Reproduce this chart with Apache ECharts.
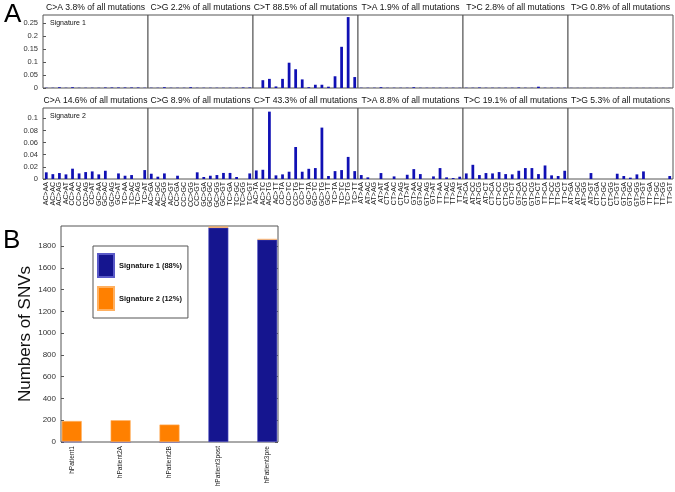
<!DOCTYPE html>
<html>
<head>
<meta charset="utf-8">
<script src="https://cdn.jsdelivr.net/npm/echarts@6/dist/echarts.min.js"></script>
<style>html,body{margin:0;padding:0;background:#fff}#c{width:675px;height:492px}</style>
</head>
<body>
<div id="c"></div>
<script>
// ---- Panel A data ----
const mutTypes = ['C>A','C>G','C>T','T>A','T>C','T>G'];
const sig1Pct = ['3.8%','2.2%','88.5%','1.9%','2.8%','0.8%'];
const sig2Pct = ['14.6%','8.9%','43.3%','8.8%','19.1%','5.3%'];

const labels_CA = ['AC>AA','AC>AC','AC>AG','AC>AT','CC>AA','CC>AC','CC>AG','CC>AT','GC>AA','GC>AC','GC>AG','GC>AT','TC>AA','TC>AC','TC>AG','TC>AT'];
const labels_CG = ['AC>GA','AC>GC','AC>GG','AC>GT','CC>GA','CC>GC','CC>GG','CC>GT','GC>GA','GC>GC','GC>GG','GC>GT','TC>GA','TC>GC','TC>GG','TC>GT'];
const labels_CT = ['AC>TA','AC>TC','AC>TG','AC>TT','CC>TA','CC>TC','CC>TG','CC>TT','GC>TA','GC>TC','GC>TG','GC>TT','TC>TA','TC>TC','TC>TG','TC>TT'];
const labels_TA = ['AT>AA','AT>AC','AT>AG','AT>AT','CT>AA','CT>AC','CT>AG','CT>AT','GT>AA','GT>AC','GT>AG','GT>AT','TT>AA','TT>AC','TT>AG','TT>AT'];
const labels_TC = ['AT>CA','AT>CC','AT>CG','AT>CT','CT>CA','CT>CC','CT>CG','CT>CT','GT>CA','GT>CC','GT>CG','GT>CT','TT>CA','TT>CC','TT>CG','TT>CT'];
const labels_TG = ['AT>GA','AT>GC','AT>GG','AT>GT','CT>GA','CT>GC','CT>GG','CT>GT','GT>GA','GT>GC','GT>GG','GT>GT','TT>GA','TT>GC','TT>GG','TT>GT'];

const sig1_CA = [0.001,0.001,0.003,0.001,0.003,0.001,0.001,0.001,0.001,0.002,0.002,0.002,0.002,0.002,0.002,0.001];
const sig1_CG = [0.001,0.001,0.003,0.001,0.001,0.001,0.003,0.001,0.001,0.001,0.001,0.001,0.001,0.001,0.002,0.002];
const sig1_CT = [0,0.030,0.035,0.006,0.035,0.097,0.072,0.033,0.003,0.0125,0.0125,0.005,0.045,0.158,0.272,0.042];
const sig1_TA = [0.001,0.001,0.001,0.003,0.001,0.001,0.001,0.001,0.003,0.001,0.001,0.001,0.001,0.001,0.001,0.001];
const sig1_TC = [0.001,0.001,0.002,0.001,0.001,0.001,0.001,0.001,0.002,0.001,0.001,0.005,0.001,0.001,0.001,0.001];
const sig1_TG = [0.0005,0.0005,0.0005,0.0005,0.0005,0.0005,0.0005,0.0005,0.0005,0.0005,0.0005,0.0005,0.0005,0.0005,0.0005,0.0005];

const sig2_CA = [0.011,0.008,0.0098,0.0076,0.017,0.0092,0.0114,0.0125,0.0076,0.0136,0,0.0092,0.0054,0.0065,0,0.0147];
const sig2_CG = [0.0087,0.0038,0.0092,0,0.0054,0,0,0.011,0.0033,0.0054,0.0065,0.01,0.01,0.0033,0,0.0092];
const sig2_CT = [0.0141,0.0152,0.111,0.006,0.0076,0.012,0.0527,0.012,0.0168,0.018,0.0847,0.0049,0.013,0.0147,0.0364,0.013];
const sig2_TA = [0.0065,0.0027,0,0.0098,0,0.0043,0,0.007,0.0163,0.0081,0,0.0043,0.018,0.0027,0.0016,0.0038];
const sig2_TC = [0.0092,0.0234,0.0065,0.0098,0.0092,0.0114,0.0081,0.0076,0.0136,0.018,0.018,0.0081,0.0223,0.006,0.0049,0.0136];
const sig2_TG = [0,0,0,0.0098,0,0,0,0.0087,0.0049,0.0022,0.0076,0.0125,0,0,0,0.0049];

const sig1TickLabels = [0,0.05,0.1,0.15,0.2,0.25];
const sig2TickLabels = [0,0.02,0.04,0.06,0.08,0.1];

// ---- Panel B data ----
const patients = ['hPatient1','hPatient2A','hPatient2B','hPatient3post','hPatient3pre'];
const snvSig1 = [5,0,0,1970,1860];
const snvSig2 = [188,200,160,10,5];
const snvTickLabels = [0,200,400,600,800,1000,1200,1400,1600,1800];

// ---- build ----
const labelsAll = [labels_CA,labels_CG,labels_CT,labels_TA,labels_TC,labels_TG];
const sig1All = [sig1_CA,sig1_CG,sig1_CT,sig1_TA,sig1_TC,sig1_TG];
const sig2All = [sig2_CA,sig2_CG,sig2_CT,sig2_TA,sig2_TC,sig2_TG];

const FONT = 'Liberation Sans, Arial, sans-serif';
const BAR = '#1010b4';
const panelLeft = 43, panelW = 105;
const rows = [
  {top:15, height:73, max:0.28, ticks:sig1TickLabels, data:sig1All, pct:sig1Pct, showX:false},
  {top:108, height:71, max:0.117, ticks:sig2TickLabels, data:sig2All, pct:sig2Pct, showX:true}
];

const grid=[], xAxis=[], yAxis=[], series=[], graphic=[];
rows.forEach((r,ri)=>{
  for(let k=0;k<6;k++){
    const gi = grid.length;
    grid.push({left:panelLeft+panelW*k, top:r.top, width:panelW, height:r.height,
      show:true, borderColor:'#555', borderWidth:1, backgroundColor:'#fff', containLabel:false});
    xAxis.push({type:'category', gridIndex:gi, data:labelsAll[k],
      axisLine:{show:false}, axisTick:{show:false},
      axisLabel:{show:r.showX, rotate:90, interval:0, fontSize:7, fontFamily:FONT, color:'#222', margin:3}});
    yAxis.push({type:'value', gridIndex:gi, min:0, max:r.max,
      axisLine:{show:false}, splitLine:{show:false},
      axisTick:{show:k===0, inside:true, length:3, lineStyle:{color:'#555'}, customValues:r.ticks},
      axisLabel:{show:k===0, fontSize:7.5, fontFamily:FONT, color:'#333', margin:5, customValues:r.ticks,
        formatter:v=>String(+v.toFixed(3))}});
    series.push({type:'bar', xAxisIndex:gi, yAxisIndex:gi, data:r.data[k], barWidth:'42%',
      itemStyle:{color:BAR}, silent:true, animation:false});
    graphic.push({type:'text', x:panelLeft+panelW*k+panelW/2, y:r.top-12,
      style:{text:mutTypes[k]+' '+r.pct[k]+' of all mutations', fill:'#111', font:'8.6px '+FONT, textAlign:'center'}});
  }
});
graphic.push({type:'text', x:50, y:20, style:{text:'Signature 1', fill:'#111', font:'7px '+FONT}});
graphic.push({type:'text', x:50, y:113, style:{text:'Signature 2', fill:'#111', font:'7px '+FONT}});
graphic.push({type:'text', x:4, y:2, style:{text:'A', fill:'#000', font:'26px '+FONT}});
graphic.push({type:'text', x:3, y:228, style:{text:'B', fill:'#000', font:'26px '+FONT}});

// Panel B
const gB = grid.length;
grid.push({left:61, top:226, width:217, height:216, show:true, borderColor:'#555', borderWidth:1, containLabel:false});
const xB = xAxis.length;
xAxis.push({type:'value', gridIndex:gB, position:'bottom', min:0.78, max:5.22,
  axisLine:{show:false}, splitLine:{show:false},
  axisTick:{show:false},
  axisLabel:{rotate:90, fontSize:6.6, fontFamily:FONT, color:'#222', margin:4, customValues:[1,2,3,4,5],
    formatter:v=>patients[Math.round(v)-1]||''}});
const yB = yAxis.length;
yAxis.push({type:'value', gridIndex:gB, min:0, max:1985,
  axisLine:{show:false}, splitLine:{show:false},
  axisTick:{show:true, inside:true, length:3, customValues:snvTickLabels, lineStyle:{color:'#555'}},
  axisLabel:{fontSize:8, fontFamily:FONT, color:'#333', margin:5, customValues:snvTickLabels, formatter:v=>String(v)},
  name:'Numbers of SNVs', nameLocation:'middle', nameRotate:90, nameGap:22,
  nameTextStyle:{fontSize:17, fontFamily:FONT, color:'#111'}});
yAxis.push({type:'value', gridIndex:gB, position:'right', min:0, max:1985,
  axisLine:{show:false}, splitLine:{show:false}, axisLabel:{show:false},
  axisTick:{show:true, inside:true, length:3, customValues:snvTickLabels, lineStyle:{color:'#555'}}});
series.push({type:'bar', name:'Signature 1 (88%)', xAxisIndex:xB, yAxisIndex:yB, stack:'b', barWidth:20,
  encode:{x:1, y:0}, data:snvSig1.map((v,i)=>[v,i+1]),
  itemStyle:{color:'#15158f', borderColor:'#5a5ac8', borderWidth:0.6}, animation:false});
series.push({type:'bar', name:'Signature 2 (12%)', xAxisIndex:xB, yAxisIndex:yB, stack:'b', barWidth:20,
  encode:{x:1, y:0}, data:snvSig2.map((v,i)=>[v,i+1]),
  itemStyle:{color:'#ff8000', borderColor:'#ffb060', borderWidth:0.6}, animation:false});

const chart = echarts.init(document.getElementById('c'), null, {renderer:'canvas'});
chart.setOption({
  animation:false,
  backgroundColor:'#fff',
  grid, xAxis, yAxis, series, graphic,
  legend:{data:['Signature 1 (88%)','Signature 2 (12%)'], orient:'vertical', left:93, top:246,
    width:87, borderColor:'#555', borderWidth:1, backgroundColor:'#fff', padding:[7,6,7,4],
    itemWidth:16, itemHeight:23, itemGap:8, icon:'rect', selectedMode:false,
    textStyle:{fontSize:7.5, fontWeight:'bold', fontFamily:FONT, color:'#111'}}
});
</script>
</body>
</html>
